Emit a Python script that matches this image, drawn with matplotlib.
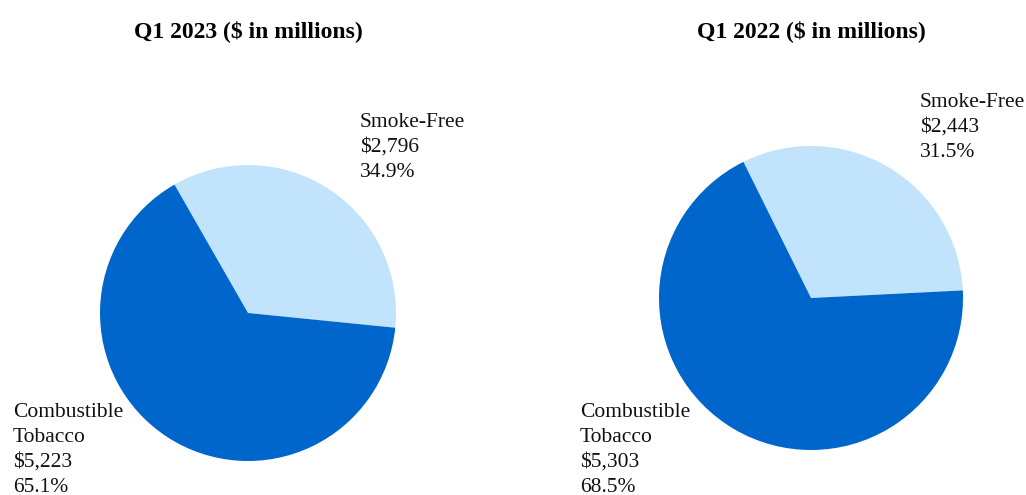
import matplotlib.pyplot as plt

plt.rcParams['font.family'] = ['Liberation Serif', 'DejaVu Serif']

# Data
segments = ["Smoke-Free", "Combustible Tobacco"]
values_2023 = [2796, 5223]
values_2022 = [2443, 5303]
pct_2023 = [34.9, 65.1]
pct_2022 = [31.5, 68.5]
titles = ["Q1 2023 ($ in millions)", "Q1 2022 ($ in millions)"]

COLORS = ['#c2e3fc', '#0066cc']
W, H = 1026, 495

fig = plt.figure(figsize=(W / 100, H / 100), dpi=100)


def px_axes(cx, cy, r):
    # axes placed by pie centre / radius in pixels (from top-left)
    return fig.add_axes([(cx - r) / W, (H - cy - r) / H, 2 * r / W, 2 * r / H])


def label(x, y, lines, step=25):
    for i, ln in enumerate(lines):
        fig.text(x / W, 1 - (y + i * step) / H, ln, ha='left', va='baseline',
                 fontsize=15.5, color='#111111')


def fmt(v):
    return f"${v:,}"


panels = [
    dict(cx=248, cy=313, r=148, start=119.8, vals=values_2023, pct=pct_2023,
         title=titles[0], tx=248, sf=(360, 127), ct=(13, 417)),
    dict(cx=811, cy=298, r=152, start=116.4, vals=values_2022, pct=pct_2022,
         title=titles[1], tx=811, sf=(920, 107), ct=(580, 417)),
]

for p in panels:
    ax = px_axes(p['cx'], p['cy'], p['r'])
    ax.pie(p['vals'], colors=COLORS, startangle=p['start'], counterclock=False,
           wedgeprops=dict(linewidth=0), radius=1.0)
    ax.set_xlim(-1, 1)
    ax.set_ylim(-1, 1)
    ax.set_aspect('equal')
    ax.axis('off')

    fig.text(p['tx'] / W, 1 - 37 / H, p['title'], ha='center', va='baseline',
             fontsize=17, fontweight='bold')

    label(*p['sf'], [segments[0], fmt(p['vals'][0]), f"{p['pct'][0]}%"])
    label(*p['ct'], ["Combustible", "Tobacco", fmt(p['vals'][1]), f"{p['pct'][1]}%"])

plt.savefig("out.png", dpi=100)
plt.close()
